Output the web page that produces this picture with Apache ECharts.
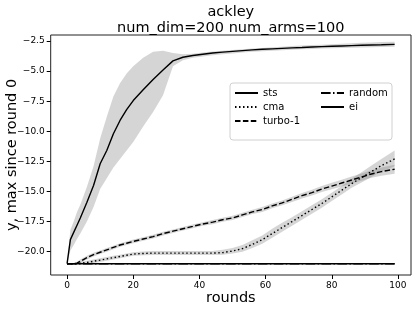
<!DOCTYPE html>
<html><head><meta charset="utf-8">
<script src="https://cdn.jsdelivr.net/npm/echarts@6/dist/echarts.min.js"></script>
<style>html,body{margin:0;padding:0;background:#fff}#c{width:415px;height:309px}</style>
</head><body><div id="c"></div>
<script>
const rounds = [0,1,2,3,4,6,8,10,12,14,16,18,20,23,26,29,32,35,38,41,44,47,50,53,56,59,62,65,68,71,74,77,80,83,86,89,92,95,99];
const stsMean = [-21.0,-19.0,-18.4,-17.8,-17.2,-15.9,-14.5,-12.7,-11.6,-10.2,-9.1,-8.2,-7.45,-6.55,-5.7,-4.9,-4.15,-3.85,-3.7,-3.6,-3.5,-3.42,-3.36,-3.3,-3.24,-3.19,-3.15,-3.11,-3.07,-3.04,-3.0,-2.97,-2.94,-2.91,-2.88,-2.85,-2.83,-2.81,-2.78];
const stsUpper = [-21.0,-18.2,-17.5,-16.7,-16.1,-14.6,-12.9,-10.6,-8.8,-7.1,-6.0,-5.2,-4.6,-3.9,-3.4,-3.3,-3.5,-3.6,-3.55,-3.45,-3.37,-3.3,-3.24,-3.18,-3.12,-3.07,-3.02,-2.97,-2.92,-2.88,-2.84,-2.8,-2.76,-2.72,-2.68,-2.65,-2.62,-2.59,-2.56];
const stsLower = [-21.0,-19.9,-19.45,-18.95,-18.5,-17.5,-16.3,-14.8,-13.9,-13.0,-12.3,-11.6,-10.9,-9.6,-8.4,-7.0,-4.6,-4.1,-3.9,-3.78,-3.68,-3.6,-3.53,-3.46,-3.4,-3.35,-3.3,-3.26,-3.22,-3.19,-3.16,-3.13,-3.1,-3.08,-3.06,-3.04,-3.02,-3.0,-2.98];
const cmaMean = [-21.0,-21.0,-21.0,-21.0,-20.95,-20.9,-20.8,-20.7,-20.6,-20.5,-20.4,-20.3,-20.2,-20.15,-20.12,-20.12,-20.12,-20.12,-20.12,-20.12,-20.12,-20.08,-19.95,-19.75,-19.4,-19.0,-18.5,-18.0,-17.5,-17.0,-16.5,-16.0,-15.45,-14.9,-14.35,-13.85,-13.35,-12.85,-12.3];
const cmaUpper = [-21.0,-21.0,-20.95,-20.9,-20.85,-20.75,-20.65,-20.55,-20.45,-20.35,-20.25,-20.15,-20.05,-19.98,-19.95,-19.95,-19.95,-19.95,-19.95,-19.95,-19.95,-19.85,-19.7,-19.45,-19.05,-18.65,-18.1,-17.6,-17.15,-16.65,-16.15,-15.65,-15.1,-14.55,-13.95,-13.4,-12.85,-12.3,-11.6];
const cmaLower = [-21.0,-21.0,-21.0,-21.0,-21.0,-21.0,-20.95,-20.85,-20.75,-20.65,-20.55,-20.45,-20.35,-20.3,-20.28,-20.28,-20.28,-20.28,-20.28,-20.28,-20.28,-20.25,-20.15,-20.0,-19.7,-19.35,-18.85,-18.35,-17.85,-17.35,-16.85,-16.35,-15.8,-15.25,-14.7,-14.25,-13.8,-13.35,-12.9];
const turboMean = [-21.0,-21.0,-21.0,-20.95,-20.8,-20.5,-20.25,-20.05,-19.85,-19.65,-19.45,-19.3,-19.15,-18.95,-18.75,-18.5,-18.3,-18.1,-17.9,-17.7,-17.55,-17.35,-17.2,-16.95,-16.7,-16.5,-16.2,-15.95,-15.65,-15.35,-15.1,-14.8,-14.55,-14.3,-14.05,-13.8,-13.55,-13.35,-13.15];
const turboUpper = [-21.0,-21.0,-20.95,-20.85,-20.65,-20.35,-20.1,-19.9,-19.7,-19.5,-19.3,-19.15,-19.0,-18.8,-18.6,-18.35,-18.15,-17.95,-17.75,-17.55,-17.38,-17.18,-17.02,-16.77,-16.52,-16.3,-16.0,-15.75,-15.43,-15.12,-14.86,-14.55,-14.28,-14.02,-13.76,-13.5,-13.23,-13.0,-12.78];
const turboLower = [-21.0,-21.0,-21.0,-21.0,-20.95,-20.65,-20.4,-20.2,-20.0,-19.8,-19.6,-19.45,-19.3,-19.1,-18.9,-18.65,-18.45,-18.25,-18.05,-17.85,-17.72,-17.52,-17.38,-17.13,-16.88,-16.7,-16.4,-16.15,-15.87,-15.58,-15.34,-15.05,-14.82,-14.58,-14.34,-14.1,-13.87,-13.7,-13.52];
const randomValues = [-21.0,-21.0,-21.0,-21.0,-21.0,-21.0,-21.0,-21.0,-21.0,-21.0,-21.0,-21.0,-21.0,-21.0,-21.0,-21.0,-21.0,-21.0,-21.0,-21.0,-21.0,-21.0,-21.0,-21.0,-21.0,-21.0,-21.0,-21.0,-21.0,-21.0,-21.0,-21.0,-21.0,-21.0,-21.0,-21.0,-21.0,-21.0,-21.0];
const eiValues = [-21.0,-21.0,-21.0,-21.0,-21.0,-21.0,-21.0,-21.0,-21.0,-21.0,-21.0,-21.0,-21.0,-21.0,-21.0,-21.0,-21.0,-21.0,-21.0,-21.0,-21.0,-21.0,-21.0,-21.0,-21.0,-21.0,-21.0,-21.0,-21.0,-21.0,-21.0,-21.0,-21.0,-21.0,-21.0,-21.0,-21.0,-21.0,-21.0];
const xTicks = [0,20,40,60,80,100];
const yTicks = [-20,-17.5,-15,-12.5,-10,-7.5,-5,-2.5];
const titleLines = ['ackley','num_dim=200 num_arms=100'];

const FONT = 'DejaVu Sans';
const pair = (vals) => rounds.map((r,i)=>[r, vals[i]]);
const bandColor = 'rgba(128,128,128,0.33)';
function band(name, lo, hi){
  return {
    type:'custom', name:name, silent:true, z:1,
    data: rounds.map((r,i)=>[r, lo[i], hi[i]]),
    encode:{x:0, y:[1,2]},
    clip:true,
    renderItem:function(params, api){
      if (params.dataIndex !== 0) return null;
      const pts = [];
      for (let i=0;i<rounds.length;i++) pts.push(api.coord([rounds[i], hi[i]]));
      for (let i=rounds.length-1;i>=0;i--) pts.push(api.coord([rounds[i], lo[i]]));
      return {type:'polygon', shape:{points:pts}, style:{fill:bandColor, stroke:null}};
    }
  };
}
function line(name, vals, type){
  return {type:'line', name:name, data:pair(vals), symbol:'none', z:3,
    lineStyle:{color:'#000', width:1.4, type:type, cap:'butt'}, itemStyle:{color:'#000'}};
}
const fmtMinus = v => (v<0?'\u2212':'') + Math.abs(v).toFixed(1);
const legendCommon = {orient:'vertical', top:88, padding:0, itemGap:4, itemWidth:23, itemHeight:10, z:10,
  itemStyle:{color:'rgba(0,0,0,0)', borderWidth:0, opacity:0},
  textStyle:{fontFamily:FONT, fontSize:10, color:'#000'}};
const chart = echarts.init(document.getElementById('c'), null, {renderer:'canvas'});
chart.setOption({
  animation:false,
  textStyle:{fontFamily:FONT},
  grid:{left:50.7, right:4, top:35, bottom:34, show:true, borderColor:'#222', borderWidth:1, containLabel:false, outerBoundsMode:'none'},
  xAxis:{type:'value', min:-4.95, max:103.95, name:'rounds', nameLocation:'middle', nameGap:16, nameMoveOverlap:false,
    nameTextStyle:{fontFamily:FONT, fontSize:14.5, color:'#000'},
    axisLine:{show:false, onZero:false}, splitLine:{show:false},
    axisTick:{show:true, inside:false, length:4, lineStyle:{color:'#000'}, customValues:xTicks},
    axisLabel:{fontFamily:FONT, fontSize:9, color:'#000', margin:6, customValues:xTicks, formatter:v=>String(Math.round(v))}},
  yAxis:{type:'value', min:-21.94, max:-2.0, name:'y, max since round 0', nameLocation:'middle', nameGap:31, nameRotate:90, nameMoveOverlap:false,
    nameTextStyle:{fontFamily:FONT, fontSize:14.5, color:'#000'},
    axisLine:{show:false, onZero:false}, splitLine:{show:false},
    axisTick:{show:true, inside:false, length:4, lineStyle:{color:'#000'}, customValues:yTicks},
    axisLabel:{fontFamily:FONT, fontSize:9, color:'#000', margin:6, customValues:yTicks, formatter:fmtMinus}},
  legend:[
    Object.assign({data:['sts','cma','turbo-1'], left:234}, legendCommon),
    Object.assign({data:['random','ei'], left:320}, legendCommon)
  ],
  graphic:[
    {type:'text', x:230.8, y:4, z:10, style:{text:titleLines.join('\n'), fontFamily:FONT, fontSize:14.5, lineHeight:16, fill:'#000', align:'center', verticalAlign:'top'}},
    {type:'rect', shape:{x:230, y:83, width:162, height:57, r:3}, z:5, style:{fill:'rgba(255,255,255,0.8)', stroke:'#d0d0d0', lineWidth:1}}
  ],
  series:[
    band('stsBand', stsLower, stsUpper),
    band('cmaBand', cmaLower, cmaUpper),
    band('turboBand', turboLower, turboUpper),
    line('sts', stsMean, 'solid'),
    line('cma', cmaMean, [1.5,2.5]),
    line('turbo-1', turboMean, [5.5,2.4]),
    line('random', randomValues, [9.6,2.4,1.5,2.4]),
    line('ei', eiValues, 'solid')
  ]
});
</script></body></html>
